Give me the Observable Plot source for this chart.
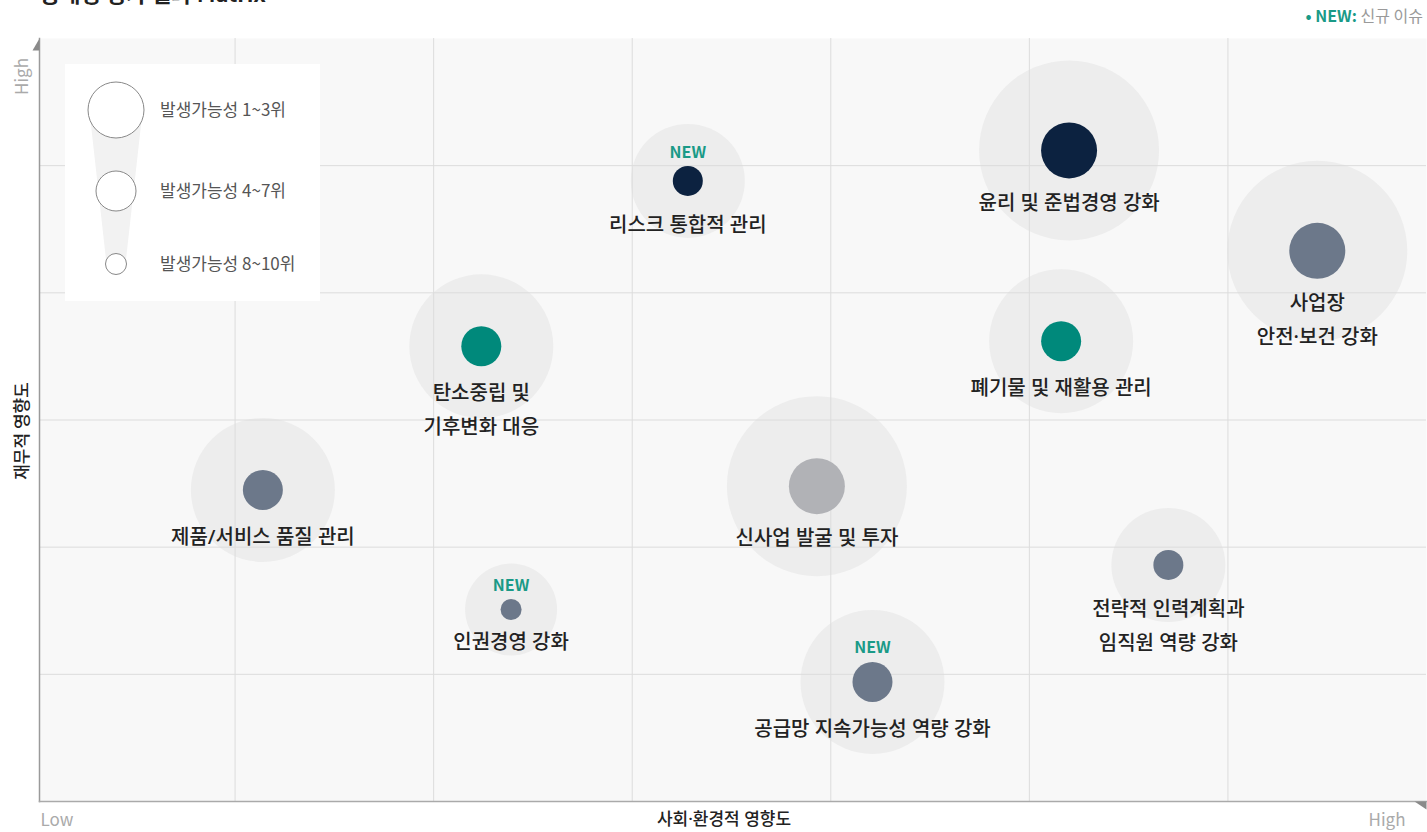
<!DOCTYPE html>
<html><head><meta charset="utf-8">
<script src="https://cdn.jsdelivr.net/npm/d3@7"></script>
<script src="https://cdn.jsdelivr.net/npm/@observablehq/plot@0.6"></script>
<style>
body{margin:0;background:#fff;font-family:"Noto Sans CJK KR","Noto Sans",sans-serif;}
#wrap{position:relative;width:1427px;height:832px;overflow:hidden;}
#title{position:absolute;left:40px;top:-24px;font-size:22px;font-weight:700;color:#222;white-space:nowrap;}
#newnote{position:absolute;right:4px;top:3px;font-size:16px;color:#9a9a9a;white-space:nowrap;}
#newnote b{color:#1a9a87;font-weight:700;}
#legend{position:absolute;left:65px;top:64px;width:255px;height:237px;background:#fff;}
</style></head><body>
<div id="wrap">
  <div id="title">중대성 평가 결과 Matrix</div>
  <div id="newnote"><b>• NEW:</b> 신규 이슈</div>
  <div id="legend"></div>
</div>
<script>
// ---- data ----
const issues = ["리스크 통합적 관리","윤리 및 준법경영 강화","사업장\n안전·보건 강화","탄소중립 및\n기후변화 대응","폐기물 및 재활용 관리","제품/서비스 품질 관리","신사업 발굴 및 투자","인권경영 강화","전략적 인력계획과\n임직원 역량 강화","공급망 지속가능성 역량 강화"];
const socialEnvImpact = [3.28, 5.20, 6.45, 2.24, 5.16, 1.14, 3.93, 2.39, 5.70, 4.21];
const financialImpact = [4.88, 5.12, 4.33, 3.58, 3.62, 2.45, 2.48, 1.51, 1.86, 0.94];
const likelihoodLevel = [2, 4, 4, 3, 3, 3, 4, 1, 2, 3];
const issueArea = ["G","G","S","E","E","S","B","S","S","S"];
const isNew = [true, false, false, false, false, false, false, true, false, true];
const legendLevels = [4, 3, 1];
const legendLabels = ["발생가능성 1~3위","발생가능성 4~7위","발생가능성 8~10위"];
const xAxisTexts = ["Low","사회·환경적 영향도","High"];
const yAxisTexts = ["재무적 영향도","High"];

const data = issues.map((name, i) => ({
  name, x: socialEnvImpact[i], y: financialImpact[i], level: likelihoodLevel[i],
  area: issueArea[i], isNew: isNew[i]
}));

// ---- styles ----
const levels = [1, 2, 3, 4];
const haloR = {1: 46, 2: 57, 3: 72, 4: 90};
const labelDy = {1: 15, 2: 27, 3: 30, 4: 35};
const newDy = {1: -24, 2: -28, 3: -34, 4: -41};
const font = '"Noto Sans CJK KR","Noto Sans",sans-serif';
const labelFont = '"Noto Sans","Noto Sans CJK KR",sans-serif';

const triUp = {draw(ctx, size) { ctx.moveTo(0, 0); ctx.lineTo(0, 12); ctx.lineTo(-7, 12); ctx.closePath(); }};
const triRight = {draw(ctx, size) { ctx.moveTo(0, 0); ctx.lineTo(-12, 0); ctx.lineTo(0, 8); ctx.closePath(); }};

const marks = [
  Plot.frame({fill: "#f8f8f8"}),
  ...levels.map(l => Plot.dot(data.filter(d => d.level === l), {x: "x", y: "y", r: haloR[l], fill: "#ededed"})),
  Plot.gridX(d3.range(1, 7), {stroke: "#dcdcdc", strokeOpacity: 1}),
  Plot.gridY(d3.range(1, 6), {stroke: "#dcdcdc", strokeOpacity: 1}),
  Plot.frame({anchor: "left", stroke: "#9a9a9a", strokeWidth: 1.5}),
  Plot.frame({anchor: "bottom", stroke: "#aaaaaa", strokeWidth: 1.5}),
  Plot.dot(data, {x: "x", y: "y", r: "level", fill: "area"}),
  ...levels.map(l => Plot.text(data.filter(d => d.level === l), {
    x: "x", y: "y", text: "name", lineAnchor: "top", dy: labelDy[l],
    fontSize: 20, fontWeight: 500, fill: "#222", lineHeight: 1.7, fontFamily: labelFont
  })),
  ...levels.map(l => Plot.text(data.filter(d => d.level === l && d.isNew), {
    x: "x", y: "y", text: () => "NEW", lineAnchor: "middle", dy: newDy[l],
    fontSize: 16, fontWeight: 700, fill: "#1a9a87"
  })),
  Plot.dot([0], {frameAnchor: "top-left", symbol: triUp, fill: "#8a8a8a", r: 6}),
  Plot.dot([0], {frameAnchor: "bottom-right", symbol: triRight, fill: "#8a8a8a", r: 6}),
  Plot.text([xAxisTexts[0]], {frameAnchor: "bottom-left", textAnchor: "start", dx: 1, dy: 19, fontSize: 17, fill: "#aaaaaa", lineAnchor: "middle"}),
  Plot.text([xAxisTexts[1]], {frameAnchor: "bottom", textAnchor: "middle", dx: -9, dy: 18, fontSize: 17, fontWeight: 500, fill: "#222", lineAnchor: "middle", fontFamily: labelFont}),
  Plot.text([xAxisTexts[2]], {frameAnchor: "bottom-right", textAnchor: "end", dx: -21, dy: 19, fontSize: 17, fill: "#aaaaaa", lineAnchor: "middle"}),
  Plot.text([yAxisTexts[0]], {frameAnchor: "left", textAnchor: "middle", rotate: -90, dx: -17, dy: 11, fontSize: 17, fontWeight: 500, fill: "#222", lineAnchor: "middle"}),
  Plot.text([yAxisTexts[1]], {frameAnchor: "top-left", textAnchor: "middle", rotate: -90, dx: -17, dy: 38, fontSize: 17, fill: "#aaaaaa", lineAnchor: "middle"})
];

const plot = Plot.plot({
  width: 1427, height: 832,
  marginLeft: 39, marginRight: 1, marginTop: 38, marginBottom: 31,
  style: {background: "transparent", fontFamily: font, overflow: "visible"},
  x: {domain: [0, 7], axis: null, insetLeft: -3},
  y: {domain: [0, 6], axis: null},
  r: {type: "linear", domain: [1, 2, 3, 4], range: [10.5, 15, 20, 28]},
  color: {domain: ["G","E","S","B"], range: ["#0c2240","#00897b","#6c788a","#b1b2b6"]},
  marks
});
plot.style.position = "absolute";
plot.style.left = "0px";
plot.style.top = "0px";
const wrap = document.getElementById("wrap");
wrap.insertBefore(plot, wrap.firstChild);

// ---- legend (uses the plot's r scale) ----
const rScale = plot.scale("r");
const lg = d3.select("#legend").append("svg").attr("width", 255).attr("height", 237)
  .style("font-family", font);
const cx = 51, rowY = [46, 127, 200];
const rTop = rScale.apply(legendLevels[0]), rBot = rScale.apply(legendLevels[2]);
lg.append("polygon")
  .attr("points", [[cx - rTop + 2, rowY[0] + 6], [cx + rTop - 2, rowY[0] + 6], [cx + rBot - 1, rowY[2]], [cx - rBot + 1, rowY[2]]].map(p => p.join(",")).join(" "))
  .attr("fill", "#f2f2f2");
legendLevels.forEach((lv, i) => {
  lg.append("circle").attr("cx", cx).attr("cy", rowY[i]).attr("r", rScale.apply(lv))
    .attr("fill", "#fff").attr("stroke", "#888").attr("stroke-width", 1);
  lg.append("text").attr("x", 95).attr("y", rowY[i]).attr("dy", "0.35em")
    .attr("font-size", 17).attr("fill", "#555").text(legendLabels[i]);
});
</script>
</body></html>
